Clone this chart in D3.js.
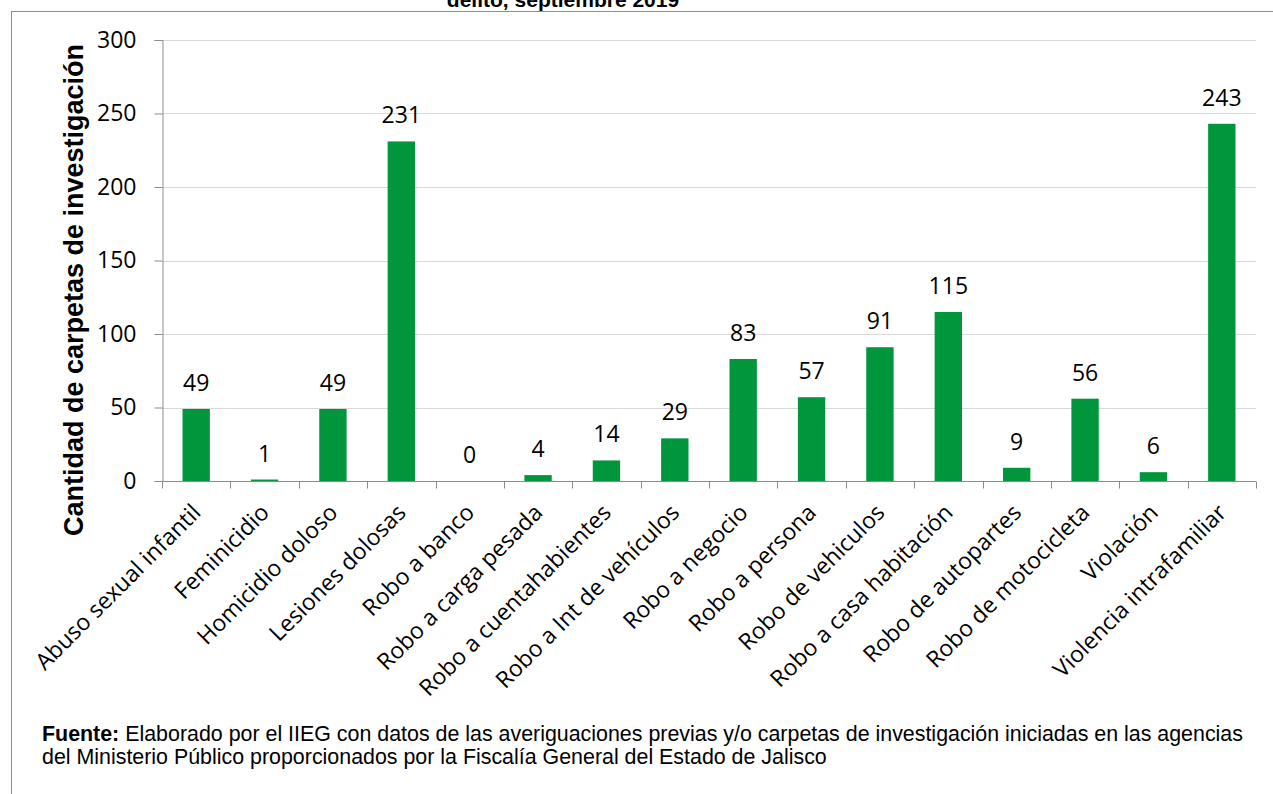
<!DOCTYPE html>
<html>
<head>
<meta charset="utf-8">
<script src="https://d3js.org/d3.v7.min.js"></script>
<style>
  body { margin: 0; background: #fff; }
  svg { display: block; }
</style>
</head>
<body>
<div id="chart"></div>
<script>
// categories and counts
var categories = ["Abuso sexual infantil", "Feminicidio", "Homicidio doloso", "Lesiones dolosas",
  "Robo a banco", "Robo a carga pesada", "Robo a cuentahabientes", "Robo a Int de vehículos",
  "Robo a negocio", "Robo a persona", "Robo de vehiculos", "Robo a casa habitación",
  "Robo de autopartes", "Robo de motocicleta", "Violación", "Violencia intrafamiliar"];
var values = [49, 1, 49, 231, 0, 4, 14, 29, 83, 57, 91, 115, 9, 56, 6, 243];
var yTicks = [0, 50, 100, 150, 200, 250, 300];

var titleLine = "delito, septiembre 2019";
var yTitle = "Cantidad de carpetas de investigación";
var sourceBold = "Fuente:";
var sourceLine1 = " Elaborado por el IIEG con datos de las averiguaciones previas y/o carpetas de investigación iniciadas en las agencias";
var sourceLine2 = "del Ministerio Público proporcionados por la Fiscalía General del Estado de Jalisco";

var W = 1273, H = 794;
var labelFont = "'Open Sans', 'Liberation Sans', sans-serif";
var arial = "'Liberation Sans', Arial, sans-serif";

var svg = d3.select("#chart").append("svg")
  .attr("width", W)
  .attr("height", H);

// outer frame, only the top and left edges fall inside the page
svg.append("line")
  .attr("x1", 11).attr("x2", W).attr("y1", 11.5).attr("y2", 11.5)
  .attr("stroke", "#8c8c8c");
svg.append("line")
  .attr("x1", 11.5).attr("x2", 11.5).attr("y1", 11).attr("y2", H)
  .attr("stroke", "#8c8c8c");

// title, cut by the top of the page
svg.append("text")
  .attr("x", 563).attr("y", 7)
  .attr("text-anchor", "middle")
  .style("font", "bold 21px " + arial)
  .text(titleLine);

var x = d3.scaleBand()
  .domain(categories)
  .range([162, 1256])
  .paddingInner(0.6)
  .paddingOuter(0.3);

var y = d3.scaleLinear()
  .domain([0, 300])
  .range([481, 40]);

// gridlines
svg.append("g")
  .selectAll("line")
  .data(yTicks.slice(1))
  .join("line")
  .attr("x1", 162).attr("x2", 1256)
  .attr("y1", function(d) { return Math.round(y(d)) + 0.5; })
  .attr("y2", function(d) { return Math.round(y(d)) + 0.5; })
  .attr("stroke", "#d9d9d9");

// bars
svg.append("g")
  .selectAll("rect")
  .data(values)
  .join("rect")
  .attr("x", function(d, i) { return x(categories[i]); })
  .attr("width", x.bandwidth())
  .attr("y", function(d) { return y(d); })
  .attr("height", function(d) { return y(0) - y(d); })
  .attr("fill", "#00963b");

// value labels
svg.append("g")
  .selectAll("text")
  .data(values)
  .join("text")
  .attr("x", function(d, i) { return x(categories[i]) + x.bandwidth() / 2; })
  .attr("y", function(d) { return y(d) - 18; })
  .attr("text-anchor", "middle")
  .style("font", "23px " + labelFont)
  .attr("fill", "#000")
  .text(function(d) { return d; });

// y axis
var yAxis = d3.axisLeft(y).tickValues(yTicks).tickSize(8).tickPadding(18);
var gy = svg.append("g")
  .attr("transform", "translate(162.5,0)")
  .call(yAxis);
gy.selectAll("text").style("font", "23px " + labelFont).attr("fill", "#000");
gy.selectAll("line, path").attr("stroke", "#8c8c8c");

// x axis with ticks between the categories
var xAxis = d3.axisBottom(x).tickSize(0).tickFormat("");
var gx = svg.append("g")
  .attr("transform", "translate(0," + (y(0) + 0.5) + ")")
  .call(xAxis);
gx.select("path").attr("stroke", "#8c8c8c").attr("d", "M162,0H1256");
gx.selectAll(".sep")
  .data(d3.range(categories.length + 1))
  .join("line")
  .attr("class", "sep")
  .attr("x1", function(i) { return Math.round(162 + i * x.step()) + 0.5; })
  .attr("x2", function(i) { return Math.round(162 + i * x.step()) + 0.5; })
  .attr("y1", 0).attr("y2", 7)
  .attr("stroke", "#8c8c8c");

// rotated category labels
svg.append("g")
  .selectAll("text")
  .data(categories)
  .join("text")
  .attr("text-anchor", "end")
  .attr("transform", function(d) {
    return "translate(" + (x(d) + x.bandwidth() / 2 + 6) + "," + (y(0) + 33) + ")rotate(-45)";
  })
  .style("font", "23px " + labelFont)
  .attr("fill", "#000")
  .text(function(d) { return d; });

// y axis title
svg.append("text")
  .attr("text-anchor", "middle")
  .attr("transform", "translate(83,290)rotate(-90)")
  .style("font", "bold 27px " + arial)
  .text(yTitle);

// source note
var src = svg.append("text")
  .attr("x", 42).attr("y", 741)
  .style("font", "21.4px " + arial);
src.append("tspan").style("font-weight", "bold").text(sourceBold);
src.append("tspan").text(sourceLine1);
svg.append("text")
  .attr("x", 42).attr("y", 764)
  .style("font", "21.4px " + arial)
  .text(sourceLine2);
</script>
</body>
</html>
